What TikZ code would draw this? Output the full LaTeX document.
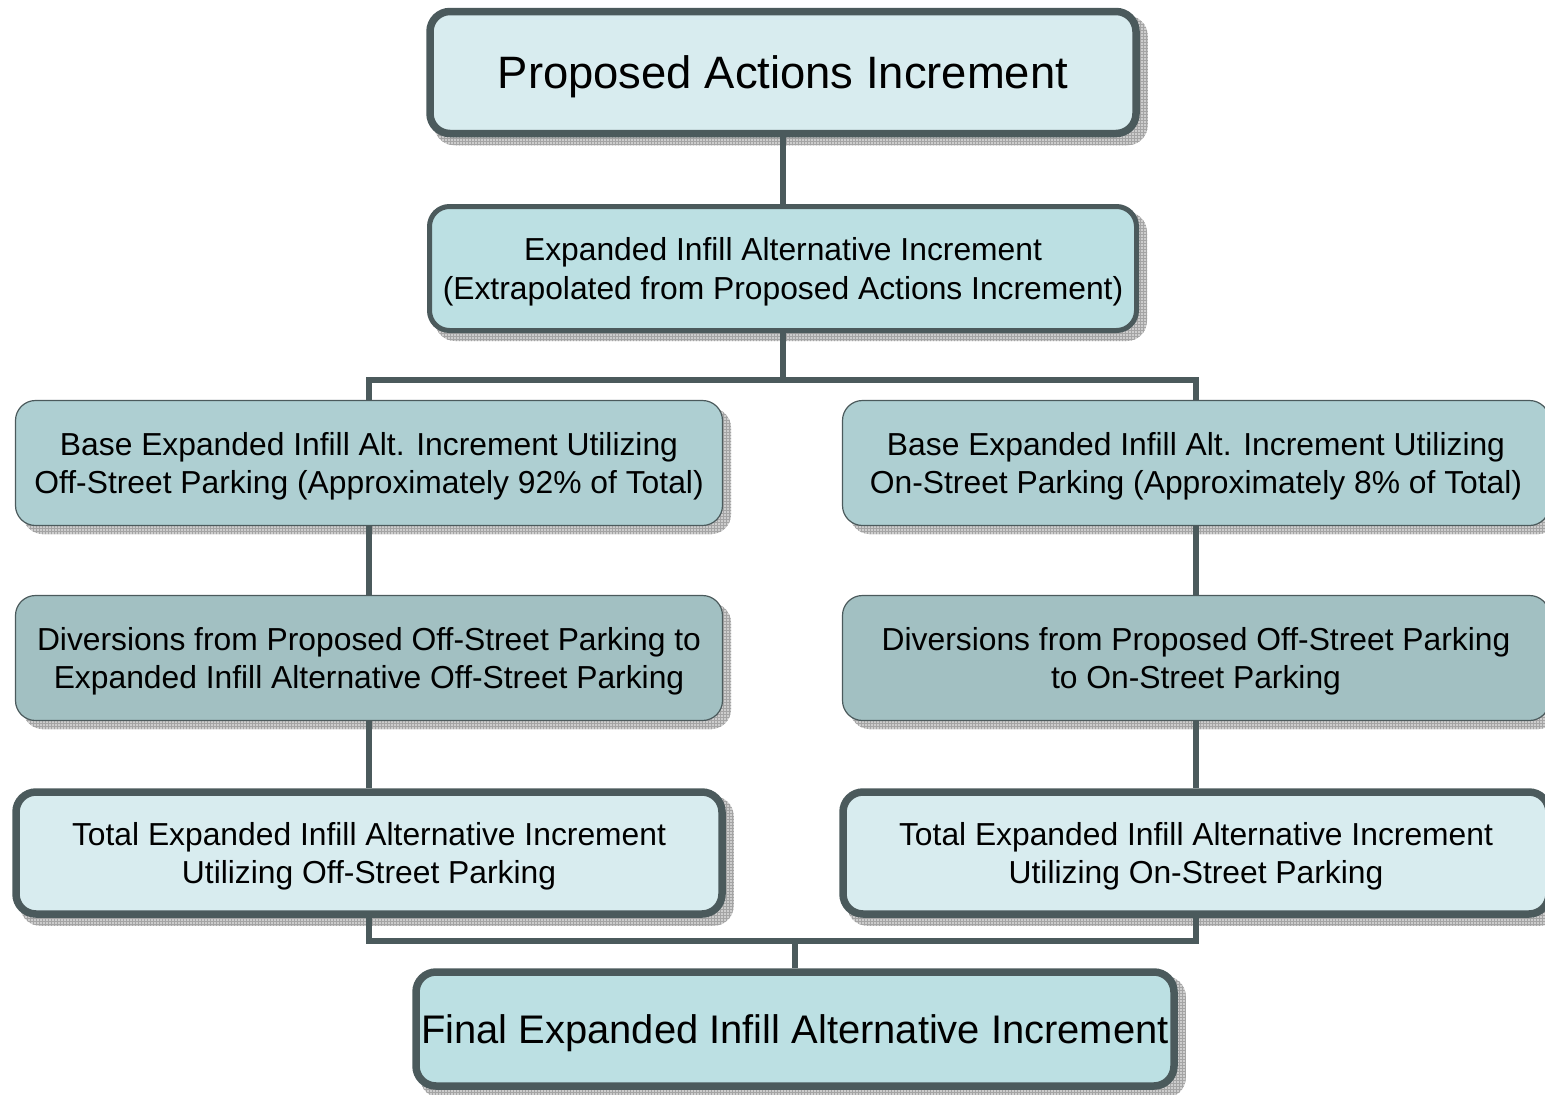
\documentclass[tikz,border=0pt]{standalone}
\usepackage{fontspec}
\setmainfont{Liberation Sans}
\usetikzlibrary{patterns}

\definecolor{edge}{HTML}{4B5A5C}
\definecolor{palefill}{HTML}{D8ECEF}
\definecolor{aquafill}{HTML}{BCE0E3}
\definecolor{basefill}{HTML}{AECFD2}
\definecolor{divfill}{HTML}{A2C0C2}
\definecolor{shadowgray}{HTML}{CDCDCD}
\definecolor{gridgray}{HTML}{A4A4A4}

\pgfdeclarelayer{shadow}
\pgfdeclarelayer{background}
\pgfsetlayers{shadow,background,main}

\tikzset{
  box/.style={rectangle, rounded corners=20pt, draw=edge, align=center,
    inner sep=0pt, text=black, text depth=0pt},
  thickbox/.style={box, line width=7.5pt, minimum width=706pt, minimum height=122pt},
  midbox/.style={box, line width=5pt, minimum width=707pt, minimum height=124pt},
  thinbox/.style={box, line width=1.2pt, minimum width=707pt, minimum height=125pt},
  conn/.style={draw=edge, line width=5.5pt},
  shadowbox/.style={rounded corners=20pt, preaction={fill=shadowgray},
    pattern=grid, pattern color=gridgray},
  bigtext/.style={font=\fontsize{45.4}{54}\selectfont},
  midtext/.style={font=\fontsize{31.8}{38.5}\selectfont},
  finaltext/.style={font=\fontsize{39.9}{48}\selectfont},
}

\begin{document}
\begin{tikzpicture}[x=1pt,y=-1pt]
  \useasboundingbox (0,0) rectangle (1545,1095);

  % top of the tree
  \node[thickbox, fill=palefill, bigtext] (b1) at (783,72.5)
    {Proposed Actions Increment};
  \node[midbox, fill=aquafill, midtext] (b2) at (783,268.5)
    {Expanded Infill Alternative Increment\\(Extrapolated from Proposed Actions Increment)};

  % off-street branch
  \node[thinbox, fill=basefill, midtext] (b3) at (369,463)
    {Base Expanded Infill Alt. Increment Utilizing\\Off-Street Parking (Approximately 92\% of Total)};
  \node[thinbox, fill=divfill, midtext] (b5) at (369,658)
    {Diversions from Proposed Off-Street Parking to\\Expanded Infill Alternative Off-Street Parking};
  \node[thickbox, fill=palefill, midtext] (b7) at (369,853)
    {Total Expanded Infill Alternative Increment\\Utilizing Off-Street Parking};

  % on-street branch
  \node[thinbox, fill=basefill, midtext] (b4) at (1196,463)
    {Base Expanded Infill Alt. Increment Utilizing\\On-Street Parking (Approximately 8\% of Total)};
  \node[thinbox, fill=divfill, midtext] (b6) at (1196,658)
    {Diversions from Proposed Off-Street Parking\\to On-Street Parking};
  \node[thickbox, fill=palefill, midtext] (b8) at (1196,853)
    {Total Expanded Infill Alternative Increment\\Utilizing On-Street Parking};

  % result
  \node[thickbox, minimum width=758pt, minimum height=114pt, fill=aquafill, finaltext]
    (b9) at (795,1029) {Final Expanded Infill Alternative Increment};

  % hatched drop shadows
  \begin{pgfonlayer}{shadow}
    \foreach \n in {b1,b2,b3,b4,b5,b6,b7,b8,b9}
      \fill[shadowbox] ([shift={(8,8)}]\n.north west) rectangle ([shift={(8,8)}]\n.south east);
  \end{pgfonlayer}

  % connectors
  \coordinate (busT) at (783,380);
  \coordinate (busB) at (795,941);
  \begin{pgfonlayer}{background}
    \draw[conn] (b1.south) -- (b2.north);
    \draw[conn] (b2.south) -- (busT);
    \draw[conn] (b3.north) |- (busT) -| (b4.north);
    \draw[conn] (b3.south) -- (b5.north);
    \draw[conn] (b4.south) -- (b6.north);
    \draw[conn] (b5.south) -- (b7.north);
    \draw[conn] (b6.south) -- (b8.north);
    \draw[conn] (b7.south) |- (busB) -| (b8.south);
    \draw[conn] (busB) -- (b9.north);
  \end{pgfonlayer}
\end{tikzpicture}
\end{document}
